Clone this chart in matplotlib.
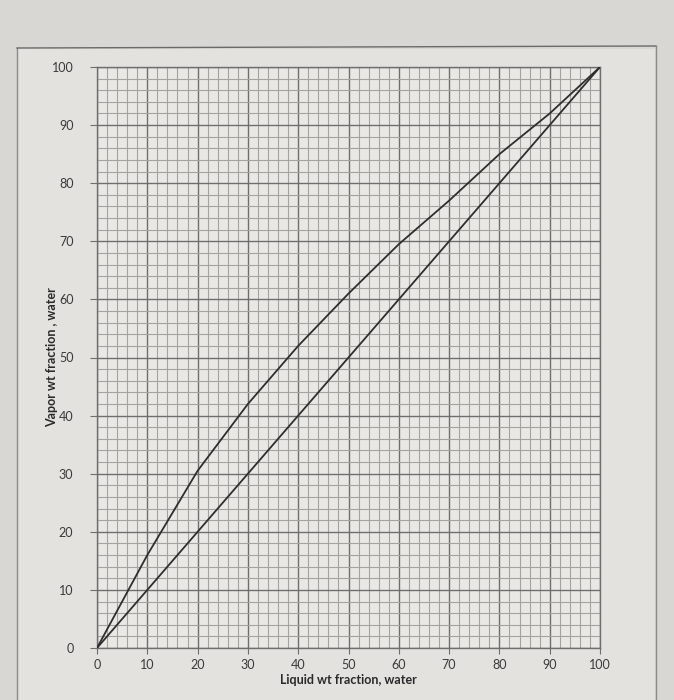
import matplotlib
matplotlib.use("Agg")
import matplotlib.pyplot as plt
from matplotlib.patches import Rectangle
from matplotlib.lines import Line2D
import numpy as np

# Data
liquid_x = [0, 10, 20, 30, 40, 50, 60, 70, 80, 90, 100]
vapor_y = [0, 16, 30.5, 42, 52, 61, 69.5, 77, 85, 92, 100]
diag_x = [0, 100]
diag_y = [0, 100]
x_ticks = [0, 10, 20, 30, 40, 50, 60, 70, 80, 90, 100]
y_ticks = [0, 10, 20, 30, 40, 50, 60, 70, 80, 90, 100]

plt.rcParams['font.family'] = ['Lato', 'DejaVu Sans']

fig = plt.figure(figsize=(6.74, 7.00), dpi=100)
fig.patch.set_facecolor('#d9d7d3')

# outer printed frame
frame = [Line2D([17/674, 17/674], [0, 1 - 48/700], color='#8a8a8a', lw=1.0),
         Line2D([17/674, 656/674], [1 - 48/700, 1 - 46/700], color='#6a6a6a', lw=1.0),
         Line2D([656/674, 656/674], [1 - 46/700, 0], color='#8a8a8a', lw=1.0)]
for ln in frame:
    fig.add_artist(ln)
fig.add_artist(Rectangle((18/674, 0), 637/674, 1 - 49/700, transform=fig.transFigure,
                         facecolor='#e3e2de', edgecolor='none', zorder=-1))

ax = fig.add_axes([97/674, 1 - 648/700, 503/674, 581/700])
ax.set_facecolor('#e9e8e4')
ax.set_xlim(0, 100)
ax.set_ylim(0, 100)

ax.set_xticks(x_ticks)
ax.set_yticks(y_ticks)
ax.set_xticks(np.arange(0, 101, 2), minor=True)
ax.set_yticks(np.arange(0, 101, 2), minor=True)
ax.grid(which='major', color='#6e6e6e', lw=1.0)
ax.grid(which='minor', color='#a3a3a0', lw=0.8)
ax.set_axisbelow(True)

ax.tick_params(which='major', axis='y', length=5, color='#6e6e6e', pad=12,
               labelsize=9, labelcolor='#3a3a3a')
ax.tick_params(which='major', axis='x', length=4, color='#6e6e6e', pad=4,
               labelsize=9, labelcolor='#3a3a3a')
ax.tick_params(which='minor', length=0)
for s in ax.spines.values():
    s.set_color('#6e6e6e')
    s.set_linewidth(1.0)

ax.plot(liquid_x, vapor_y, color='#2e2e2e', lw=1.3, zorder=3)
ax.plot(diag_x, diag_y, color='#2e2e2e', lw=1.3, zorder=3)

ax.set_xlabel('Liquid wt fraction, water', fontsize=9, fontweight='bold',
              color='#2a2a2a', labelpad=2)
ax.set_ylabel('Vapor wt fraction , water', fontsize=9, fontweight='bold',
              color='#2a2a2a')
ax.yaxis.set_label_coords(-0.077, 0.5)

fig.savefig('out.png', dpi=100, facecolor=fig.get_facecolor())
